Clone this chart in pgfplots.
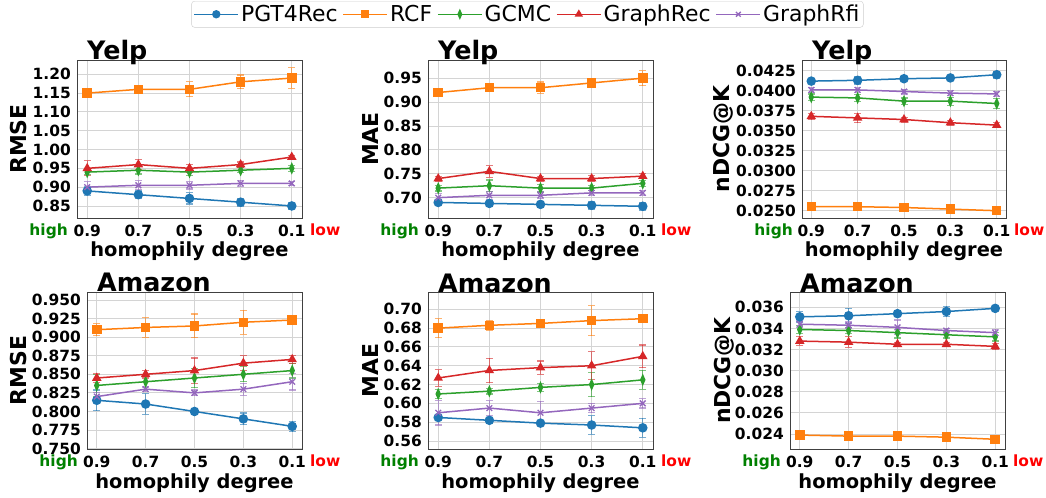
\documentclass[border=0pt]{standalone}
\usepackage{fontspec}
\setmainfont{DejaVu Sans}
\usepackage{pgfplots}
\pgfplotsset{compat=1.18}
\usepackage{pgfplotstable}
\definecolor{c1}{HTML}{1F77B4}
\definecolor{c2}{HTML}{FF7F0E}
\definecolor{c3}{HTML}{2CA02C}
\definecolor{c4}{HTML}{D62728}
\definecolor{c5}{HTML}{9467BD}
\definecolor{hi}{HTML}{008000}
\definecolor{lo}{HTML}{FF0000}
\newcommand\tk{\fontsize{15.5}{18}\selectfont\bfseries}
\newcommand\ttl{\fontsize{25.5}{30}\selectfont\bfseries}
\newcommand\xl{\fontsize{19.5}{23}\selectfont\bfseries}
\newcommand\yl{\fontsize{22}{26}\selectfont\bfseries}

\pgfplotstableread{
x y1 e1 y2 e2 y3 e3 y4 e4 y5 e5
0.9 0.890 0.012 1.150 0.005 0.940 0.007 0.950 0.020 0.900 0.015
0.7 0.880 0.010 1.160 0.005 0.945 0.010 0.960 0.013 0.905 0.012
0.5 0.870 0.015 1.160 0.020 0.940 0.010 0.950 0.010 0.905 0.010
0.3 0.860 0.010 1.180 0.018 0.945 0.007 0.960 0.007 0.910 0.008
0.1 0.850 0.010 1.190 0.027 0.950 0.008 0.980 0.005 0.910 0.005
}\tA
\pgfplotstableread{
x y1 e1 y2 e2 y3 e3 y4 e4 y5 e5
0.9 0.690 0.004 0.920 0.003 0.720 0.006 0.740 0.005 0.700 0.008
0.7 0.688 0.004 0.930 0.004 0.725 0.012 0.755 0.012 0.705 0.008
0.5 0.686 0.005 0.930 0.012 0.720 0.008 0.740 0.005 0.705 0.007
0.3 0.684 0.008 0.940 0.004 0.720 0.005 0.740 0.006 0.710 0.005
0.1 0.682 0.008 0.950 0.016 0.730 0.006 0.745 0.005 0.710 0.005
}\tB
\pgfplotstableread{
x y1 e1 y2 e2 y3 e3 y4 e4 y5 e5
0.9 0.0412 0.0003 0.0255 0.0002 0.0392 0.0004 0.0368 0.0004 0.0401 0.0003
0.7 0.0413 0.0005 0.0255 0.0002 0.0391 0.0004 0.0366 0.0006 0.0401 0.0003
0.5 0.0415 0.0002 0.0254 0.0002 0.0387 0.0004 0.0364 0.0003 0.0399 0.0003
0.3 0.0416 0.0003 0.0252 0.0002 0.0387 0.0005 0.0360 0.0003 0.0397 0.0003
0.1 0.0420 0.0004 0.0250 0.0002 0.0384 0.0006 0.0357 0.0003 0.0396 0.0003
}\tC
\pgfplotstableread{
x y1 e1 y2 e2 y3 e3 y4 e4 y5 e5
0.9 0.815 0.014 0.910 0.008 0.835 0.015 0.845 0.006 0.820 0.005
0.7 0.810 0.014 0.913 0.013 0.840 0.010 0.850 0.005 0.830 0.003
0.5 0.800 0.003 0.915 0.016 0.845 0.013 0.855 0.017 0.825 0.004
0.3 0.790 0.008 0.920 0.016 0.850 0.010 0.865 0.010 0.830 0.008
0.1 0.780 0.007 0.923 0.003 0.855 0.010 0.870 0.005 0.840 0.011
}\tD
\pgfplotstableread{
x y1 e1 y2 e2 y3 e3 y4 e4 y5 e5
0.9 0.585 0.002 0.680 0.010 0.610 0.005 0.627 0.009 0.590 0.013
0.7 0.582 0.003 0.683 0.005 0.613 0.003 0.635 0.013 0.595 0.008
0.5 0.579 0.002 0.685 0.002 0.617 0.004 0.638 0.007 0.590 0.012
0.3 0.577 0.010 0.688 0.016 0.620 0.013 0.640 0.015 0.595 0.005
0.1 0.574 0.010 0.690 0.002 0.625 0.010 0.650 0.012 0.600 0.005
}\tE
\pgfplotstableread{
x y1 e1 y2 e2 y3 e3 y4 e4 y5 e5
0.9 0.0351 0.0005 0.0239 0.0003 0.0339 0.0004 0.0328 0.0004 0.0344 0.0003
0.7 0.0352 0.0007 0.0238 0.0002 0.0338 0.0003 0.0327 0.0005 0.0343 0.0003
0.5 0.0354 0.0003 0.0238 0.0002 0.0336 0.0005 0.0325 0.0002 0.0341 0.0007
0.3 0.0356 0.0005 0.0237 0.0002 0.0334 0.0003 0.0325 0.0002 0.0338 0.0002
0.1 0.0359 0.0002 0.0235 0.0002 0.0332 0.0004 0.0323 0.0003 0.0336 0.0003
}\tF

\pgfplotsset{
  base/.style={
    scale only axis, anchor=south west, clip=false,
    x dir=reverse, xmin=0.06, xmax=0.94,
    xtick={0.9,0.7,0.5,0.3,0.1},
    xticklabels={0.9,0.7,0.5,0.3,0.1},
    grid=major, major grid style={black!17, line width=0.9bp},
    axis line style={black!75, line width=0.9bp},
    major tick length=0pt,
    scaled y ticks=false,
    /pgf/number format/assume math mode=true,
    ticklabel style={font=\tk},
    xticklabel style={anchor=north, inner sep=0pt, yshift=-7bp},
    yticklabel style={anchor=east, inner sep=0pt, xshift=-6bp},
    every axis plot/.append style={line width=1.5bp, mark size=4bp,
      error bars/y dir=both, error bars/y explicit,
      error bars/error bar style={line width=1.2bp, opacity=0.6, solid},
      error bars/error mark=-,
      error bars/error mark options={rotate=90, mark size=3.5bp, line width=1.2bp, opacity=0.6}},
    legend image code/.code={\draw[mark repeat=2, mark phase=2, every mark/.append style={scale=0.85}] plot coordinates {(0bp,0bp) (22bp,0bp) (44bp,0bp)};},
  },
  yfmt/.style={yticklabel style={/pgf/number format/fixed, /pgf/number format/fixed zerofill, /pgf/number format/precision=#1}},
  sA/.style={color=c1, mark=*, mark options={solid, fill=c1}},
  sB/.style={color=c2, mark=square*, mark options={solid, fill=c2}},
  sC/.style={color=c3, mark=diamond*, mark options={solid, fill=c3, xscale=0.65, yscale=1.1}},
  sD/.style={color=c4, mark=triangle*, mark options={solid, fill=c4}},
  sE/.style={color=c5, mark=x, mark options={solid, line width=1.3bp}},
}
\newcommand\allplots[1]{%
  \addplot[sA] table[x=x,y=y1,y error=e1]{#1};
  \addplot[sB] table[x=x,y=y2,y error=e2]{#1};
  \addplot[sC] table[x=x,y=y3,y error=e3]{#1};
  \addplot[sD] table[x=x,y=y4,y error=e4]{#1};
  \addplot[sE] table[x=x,y=y5,y error=e5]{#1};
}
\newcommand\decor[3]{% title, ylabel, ylabel shift
  \node[font=\ttl, inner sep=0pt, anchor=base west, xshift=10bp] at (axis description cs:0,1) {#1};
  \node[font=\yl, anchor=base, xshift=-#3bp, rotate=90] at (axis description cs:0,0.5) {#2};
  \node[font=\xl, anchor=base, yshift=-39bp] at (axis description cs:0.5,0) {homophily degree};
  \node[font=\tk, inner sep=0pt, text=hi, anchor=base east, xshift=-9bp, yshift=-17.5bp] at (axis description cs:0,0) {high};
  \node[font=\tk, inner sep=0pt, text=lo, anchor=base west, xshift=8bp, yshift=-17.5bp] at (axis description cs:1,0) {low};
}

\begin{document}
\begin{tikzpicture}
\path[use as bounding box] (0,0) rectangle (1046bp,498bp);
% Yelp RMSE
\begin{axis}[base, at={(77bp,280bp)}, width=225bp, height=158bp,
  ymin=0.818, ymax=1.238, ytick={0.85,0.90,0.95,1.00,1.05,1.10,1.15,1.20}, yfmt=2,
  legend columns=5,
  legend style={at={(2.002,1.3734)}, anchor=north, draw=black!20, rounded corners=3bp,
    font=\fontsize{22}{24}\selectfont, inner sep=2bp,
    /tikz/every odd column/.append style={column sep=0bp},
    /tikz/every even column/.append style={column sep=3bp}},
  legend cell align=left]
\allplots{\tA}
\legend{PGT4Rec,RCF,GCMC,GraphRec,GraphRfi}
\decor{Yelp}{RMSE}{50}
\end{axis}
% Yelp MAE
\begin{axis}[base, at={(428bp,280bp)}, width=225bp, height=158bp,
  ymin=0.6575, ymax=0.988, ytick={0.70,0.75,0.80,0.85,0.90,0.95}, yfmt=2]
\allplots{\tB}
\decor{Yelp}{MAE}{50}
\end{axis}
% Yelp nDCG
\begin{axis}[base, at={(802bp,280bp)}, width=204bp, height=158bp,
  ymin=0.02409, ymax=0.04384, ytick={0.0250,0.0275,0.0300,0.0325,0.0350,0.0375,0.0400,0.0425}, yfmt=4]
\allplots{\tC}
\decor{Yelp}{nDCG@K}{73}
\end{axis}
% Amazon RMSE
\begin{axis}[base, at={(87bp,49bp)}, width=215bp, height=157bp,
  ymin=0.7495, ymax=0.9607, ytick={0.750,0.775,0.800,0.825,0.850,0.875,0.900,0.925,0.950}, yfmt=3]
\allplots{\tD}
\decor{Amazon}{RMSE}{60}
\end{axis}
% Amazon MAE
\begin{axis}[base, at={(428bp,49bp)}, width=225bp, height=157bp,
  ymin=0.5515, ymax=0.7184, ytick={0.56,0.58,0.60,0.62,0.64,0.66,0.68,0.70}, yfmt=2]
\allplots{\tE}
\decor{Amazon}{MAE}{50}
\end{axis}
% Amazon nDCG
\begin{axis}[base, at={(790bp,49bp)}, width=215bp, height=157bp,
  ymin=0.02258, ymax=0.03745, ytick={0.024,0.026,0.028,0.030,0.032,0.034,0.036}, yfmt=3]
\allplots{\tF}
\decor{Amazon}{nDCG@K}{60}
\end{axis}
\end{tikzpicture}
\end{document}
